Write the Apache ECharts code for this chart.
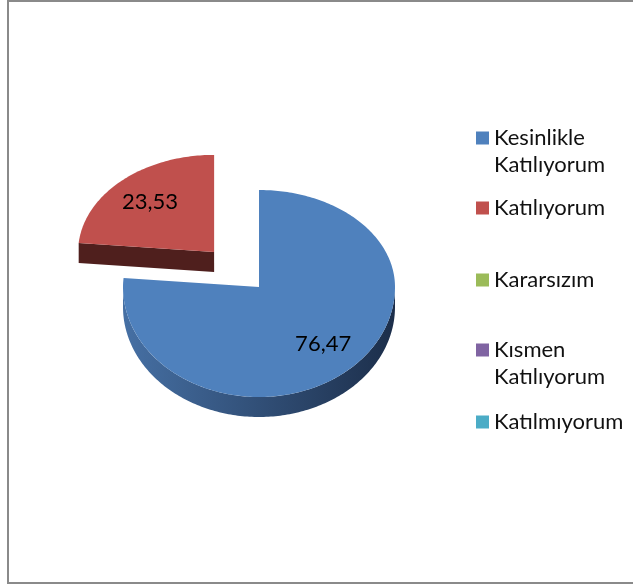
<!DOCTYPE html>
<html>
<head>
<meta charset="utf-8">
<script src="https://cdn.jsdelivr.net/npm/echarts@6/dist/echarts.min.js"></script>
<style>
  html, body { margin: 0; padding: 0; background: #fff; }
  #chart { width: 633px; height: 586px; }
</style>
</head>
<body>
<div id="chart"></div>
<script>
// veriler
const categories = ['Kesinlikle Katılıyorum', 'Katılıyorum', 'Kararsızım', 'Kısmen Katılıyorum', 'Katılmıyorum'];
const values = [76.47, 23.53, 0, 0, 0];

// renkler (Excel 2007 paleti)
const colors = ['#4F81BD', '#C0504D', '#9BBB59', '#8064A2', '#4BACC6'];
const sideDark = ['#1c2e4a', '#4f1f1d', '#4d5e2c', '#403251', '#255663'];
const sideLight = ['#4670a4', '#5a2624', '#5d7135', '#4d3c61', '#2d6776'];
const explodedIndex = 1;

// 3B pasta geometrisi (piksel)
const pie = { cx: 259, cy: 287, rx: 136, ryTop: 97, ryBot: 110, depth: 20, explode: 0.49, labelPos: 0.7 };
const legendCenters = [138, 208, 280, 350, 422];

const total = values.reduce((a, b) => a + b, 0);

// saat 12'den saat yönünde açı -> elips üzerindeki nokta
function pt(c, a, k) {
  k = k == null ? 1 : k;
  const s = Math.sin(a), co = Math.cos(a);
  return [c[0] + k * pie.rx * s, c[1] - k * (co > 0 ? pie.ryTop : pie.ryBot) * co];
}

function arc(c, a0, a1) {
  const pts = [];
  const n = Math.max(2, Math.ceil(Math.abs(a1 - a0) / (Math.PI / 180)));
  for (let j = 0; j <= n; j++) pts.push(pt(c, a0 + (a1 - a0) * j / n));
  return pts;
}

function down(p) { return [p[0], p[1] + pie.depth]; }

function renderSlice(i) {
  return function (params, api) {
    const v = api.value(0);
    if (!v) return null;
    let before = 0;
    for (let j = 0; j < i; j++) before += values[j];
    const start = before / total * Math.PI * 2;
    const end = start + v / total * Math.PI * 2;
    const mid = (start + end) / 2;
    let c = [pie.cx, pie.cy];
    if (i === explodedIndex) c = pt(c, mid, pie.explode);

    const children = [];
    const grad = new echarts.graphic.LinearGradient(0, 0, 1, 0, [
      { offset: 0, color: sideLight[i] },
      { offset: 1, color: sideDark[i] }
    ]);

    // dış yüzey (ön yarı)
    const w0 = Math.max(start, Math.PI / 2), w1 = Math.min(end, Math.PI * 1.5);
    if (w1 > w0) {
      const top = arc(c, w0, w1);
      children.push({
        type: 'polygon', z2: 1,
        shape: { points: top.concat(top.slice().reverse().map(down)) },
        style: { fill: grad }
      });
    }
    // kesit yüzleri
    [[start, start - Math.PI / 2], [end, end + Math.PI / 2]].forEach(function (e) {
      if (Math.cos(e[1]) < -0.01) {
        const p = pt(c, e[0]);
        children.push({
          type: 'polygon', z2: 2,
          shape: { points: [c, p, down(p), down(c)] },
          style: { fill: sideDark[i] }
        });
      }
    });
    // üst yüz
    children.push({
      type: 'polygon', z2: 10,
      shape: { points: [c].concat(arc(c, start, end)) },
      style: { fill: colors[i] }
    });
    // etiket
    const lp = pt(c, mid, pie.labelPos);
    children.push({
      type: 'text', z2: 20,
      x: lp[0], y: lp[1],
      style: {
        text: v.toFixed(2).replace('.', ','),
        font: '22px Lato', fill: '#000',
        align: 'center', verticalAlign: 'middle'
      }
    });
    return { type: 'group', children: children };
  };
}

const chart = echarts.init(document.getElementById('chart'));

const option = {
  backgroundColor: '#fff',
  animation: false,
  graphic: [{
    type: 'rect',
    shape: { x: 8, y: 1, width: 700, height: 582 },
    style: { fill: 'none', stroke: '#8a8a8a', lineWidth: 2 }
  }],
  legend: categories.map(function (name, i) {
    const twoLine = name.indexOf(' ') >= 0;
    return {
      data: [name],
      left: 476,
      top: legendCenters[i] - (twoLine ? 40.5 : 13.5),
      padding: 0,
      icon: 'rect',
      itemWidth: 13,
      itemHeight: 13,
      selectedMode: false,
      // iki satırlık adlarda kare ilk satırla hizalansın diye üstte boş satır
      formatter: function (n) { return twoLine ? '\u00a0\n' + n.replace(' ', '\n') : n; },
      textStyle: { fontFamily: 'Lato', fontSize: 22, lineHeight: 27, color: '#111' }
    };
  }),
  series: categories.map(function (name, i) {
    return {
      type: 'custom',
      name: name,
      coordinateSystem: 'none',
      itemStyle: { color: colors[i] },
      data: [[values[i]]],
      renderItem: renderSlice(i)
    };
  })
};

chart.setOption(option);
</script>
</body>
</html>
